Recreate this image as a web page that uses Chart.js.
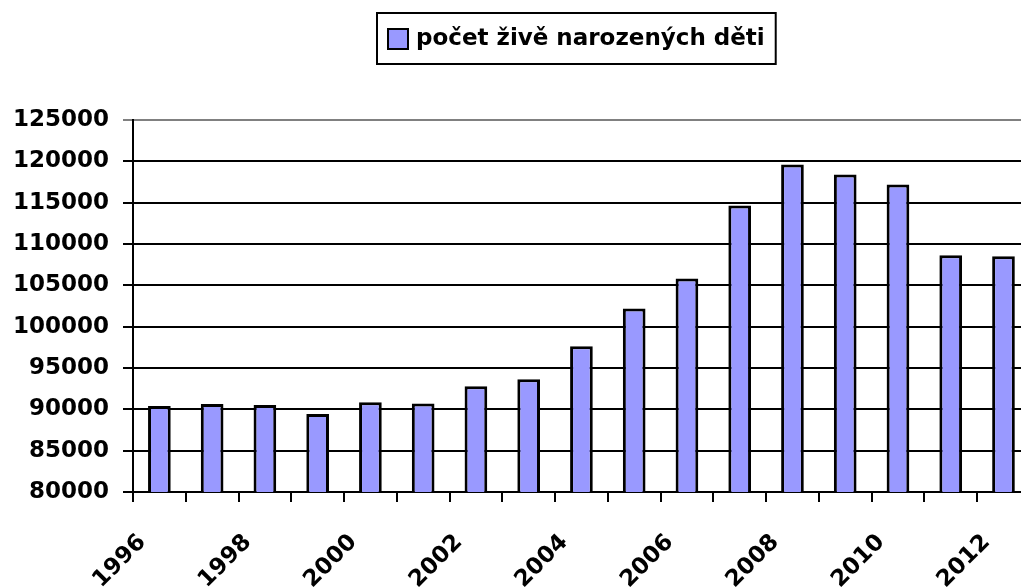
<!DOCTYPE html>
<html>
<head>
<meta charset="utf-8">
<title>počet živě narozených děti</title>
<script src="https://cdn.jsdelivr.net/npm/chart.js@4"></script>
<style>
    html, body { margin: 0; padding: 0; background: #fff; overflow: hidden; }
    #wrap { position: relative; width: 1050px; height: 587px; }
</style>
</head>
<body>
<div id="wrap"><canvas id="birthsChart"></canvas></div>
<script>
// Data
var years = ['1996', '1997', '1998', '1999', '2000', '2001', '2002', '2003', '2004',
             '2005', '2006', '2007', '2008', '2009', '2010', '2011', '2012'];
var births = [90410, 90650, 90530, 89440, 90860, 90700, 92800, 93640, 97640,
              102200, 105830, 114670, 119630, 118420, 117210, 108650, 108530];
var seriesLabel = 'počet živě narozených děti';
var yMin = 80000;
var yMax = 125000;
var yStep = 5000;

var fontFamily = '"DejaVu Sans", Verdana, sans-serif';

// Legend with a frame round it, like the original
var boxLegend = {
    id: 'boxLegend',
    afterDraw: function (chart) {
        var c = chart.ctx;
        var ds = chart.data.datasets[0];
        c.save();
        c.font = 'bold 23px ' + fontFamily;
        var textW = c.measureText(ds.label).width;
        var x = 377, y = 13, h = 51;
        var w = 39 + textW + 11;
        c.lineWidth = 2;
        c.strokeStyle = '#000';
        c.strokeRect(x, y, w, h);
        c.fillStyle = ds.backgroundColor;
        c.fillRect(x + 11, y + 16, 20, 20);
        c.strokeRect(x + 11, y + 16, 20, 20);
        c.fillStyle = '#000';
        c.textBaseline = 'middle';
        c.fillText(ds.label, x + 39, y + h / 2 + 1);
        c.restore();
    }
};

var ctx = document.getElementById('birthsChart').getContext('2d');
var birthsChart = new Chart(ctx, {
    type: 'bar',
    data: {
        labels: years,
        datasets: [{
            label: seriesLabel,
            data: births,
            backgroundColor: '#9999FF',
            borderColor: '#000000',
            borderWidth: 3,
            categoryPercentage: 1,
            barPercentage: 0.43
        }]
    },
    options: {
        responsive: true,
        maintainAspectRatio: false,
        animation: false,
        layout: { padding: { top: 120, right: 0, bottom: 0, left: 0 } },
        plugins: {
            legend: { display: false },
            tooltip: { enabled: false }
        },
        scales: {
            x: {
                offset: true,
                afterFit: function (scale) { scale.height = 95; },
                border: { display: true, color: '#000', width: 2 },
                grid: {
                    offset: true,
                    drawOnChartArea: false,
                    drawTicks: true,
                    tickLength: 10,
                    color: '#000',
                    lineWidth: 2
                },
                ticks: {
                    autoSkip: false,
                    minRotation: 45,
                    maxRotation: 45,
                    padding: 27,
                    labelOffset: -17,
                    color: '#000',
                    font: { family: fontFamily, size: 23, weight: 'bold' },
                    callback: function (value, index) {
                        return index % 2 === 0 ? this.getLabelForValue(value) : '';
                    }
                }
            },
            y: {
                min: yMin,
                max: yMax,
                afterFit: function (scale) { scale.width = 133; },
                border: { display: true, color: '#000', width: 2 },
                grid: {
                    drawTicks: true,
                    tickLength: 10,
                    lineWidth: 2,
                    color: function (c) {
                        return c.tick && c.tick.value === yMax ? '#808080' : '#000';
                    }
                },
                ticks: {
                    stepSize: yStep,
                    padding: 14,
                    color: '#000',
                    font: { family: fontFamily, size: 23, weight: 'bold' },
                    callback: function (value) { return String(value); }
                }
            }
        }
    },
    plugins: [boxLegend]
});
</script>
</body>
</html>
